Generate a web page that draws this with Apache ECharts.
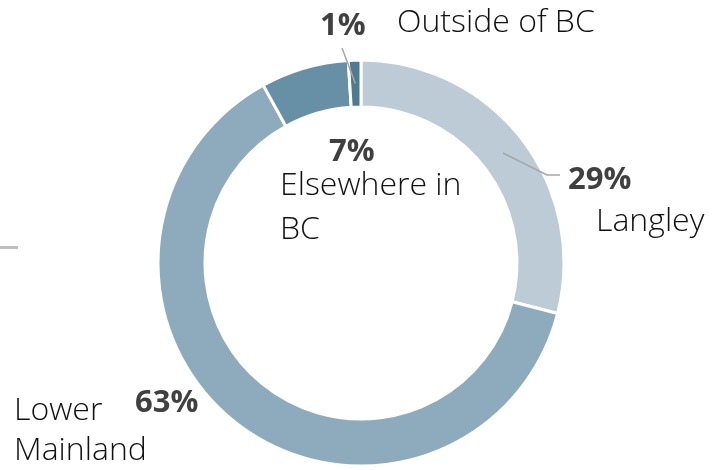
<!DOCTYPE html>
<html>
<head>
<meta charset="utf-8">
<script src="https://cdn.jsdelivr.net/npm/echarts@6/dist/echarts.min.js"></script>
<style>
  html, body { margin: 0; padding: 0; background: #fff; }
  #chart { width: 722px; height: 470px; }
</style>
</head>
<body>
<div id="chart"></div>
<script>
// data
const categories = ["Langley", "Lower Mainland", "Elsewhere in BC", "Outside of BC"];
const values = [29, 63, 7, 1];
const colors = ["#BDCBD6", "#8EABBD", "#6790A6", "#4F7A92"];

// label text per slice (line breaks as in the picture)
const labelText = [
  (p) => "{p42|" + p + "%}\n{nL|Langley}",
  (p) => "{nW|Lower}{pUp|" + p + "%}\n{n40|Mainland}",
  (p) => "{pI|" + p + "%}\n{n44|Elsewhere in}\n{n44|BC}",
  (p) => "{pO|" + p + "%}{n40|Outside of BC}",
];

// where each label sits (top-left of the text block)
const labelPos = [
  { x: 568, y: 159 },
  { x: 14, y: 391 },
  { x: 280, y: 140 },
  { x: 320, y: 3 },
];

const center = [361, 263];
const radius = [156, 203];

const nameFont = { fontFamily: "Open Sans", fontWeight: 300, fontSize: 32, color: "#111" };
const pctFont = { fontFamily: "Open Sans", fontWeight: "bold", fontSize: 31, color: "#404040" };

function st(base, extra) {
  return Object.assign({}, base, extra);
}

// point in the middle of the ring, at the middle angle of slice i
function ringMid(i) {
  var total = values.reduce((a, b) => a + b, 0);
  var before = values.slice(0, i).reduce((a, b) => a + b, 0);
  var ang = ((before + values[i] / 2) / total) * Math.PI * 2;
  var r = (radius[0] + radius[1]) / 2;
  return [center[0] + r * Math.sin(ang), center[1] - r * Math.cos(ang)];
}

var chart = echarts.init(document.getElementById("chart"));

var leader = { stroke: "#A6A6A6", lineWidth: 1.5, fill: null };

var option = {
  animation: false,
  graphic: [
    // small grey dash at the left edge
    { type: "rect", left: 0, top: 246, shape: { width: 18, height: 3 }, style: { fill: "#BFBFBF" } },
    // leader lines, drawn over the ring
    { type: "polyline", z: 100, shape: { points: [ringMid(0), [547, 175], [560, 175]] }, style: leader },
    { type: "polyline", z: 100, shape: { points: [ringMid(3), [342, 48]] }, style: leader },
  ],
  series: [
    {
      type: "pie",
      center: center,
      radius: radius,
      startAngle: 90,
      clockwise: true,
      itemStyle: { borderColor: "#fff", borderWidth: 3 },
      labelLine: { show: false },
      label: {
        show: true,
        position: "outside",
        overflow: "none",
        rich: {
          n40: st(nameFont, { lineHeight: 40 }),
          n44: st(nameFont, { lineHeight: 44 }),
          nL: st(nameFont, { lineHeight: 42, padding: [0, 0, 0, 28] }),
          nW: st(nameFont, { lineHeight: 40, width: 121 }),
          p42: st(pctFont, { lineHeight: 42 }),
          pUp: st(pctFont, { lineHeight: 40, padding: [0, 0, 15, 0] }),
          pI: st(pctFont, { lineHeight: 24, padding: [0, 0, 0, 49] }),
          pO: st(pctFont, { lineHeight: 40, width: 77, padding: [7, 0, 0, 0] }),
        },
      },
      labelLayout: function (params) {
        var i = params.dataIndex;
        return { x: labelPos[i].x, y: labelPos[i].y, align: "left", verticalAlign: "top" };
      },
      data: categories.map(function (name, i) {
        return {
          name: name,
          value: values[i],
          itemStyle: { color: colors[i] },
          label: { formatter: labelText[i](values[i]) },
        };
      }),
    },
  ],
};

chart.setOption(option);
</script>
</body>
</html>
